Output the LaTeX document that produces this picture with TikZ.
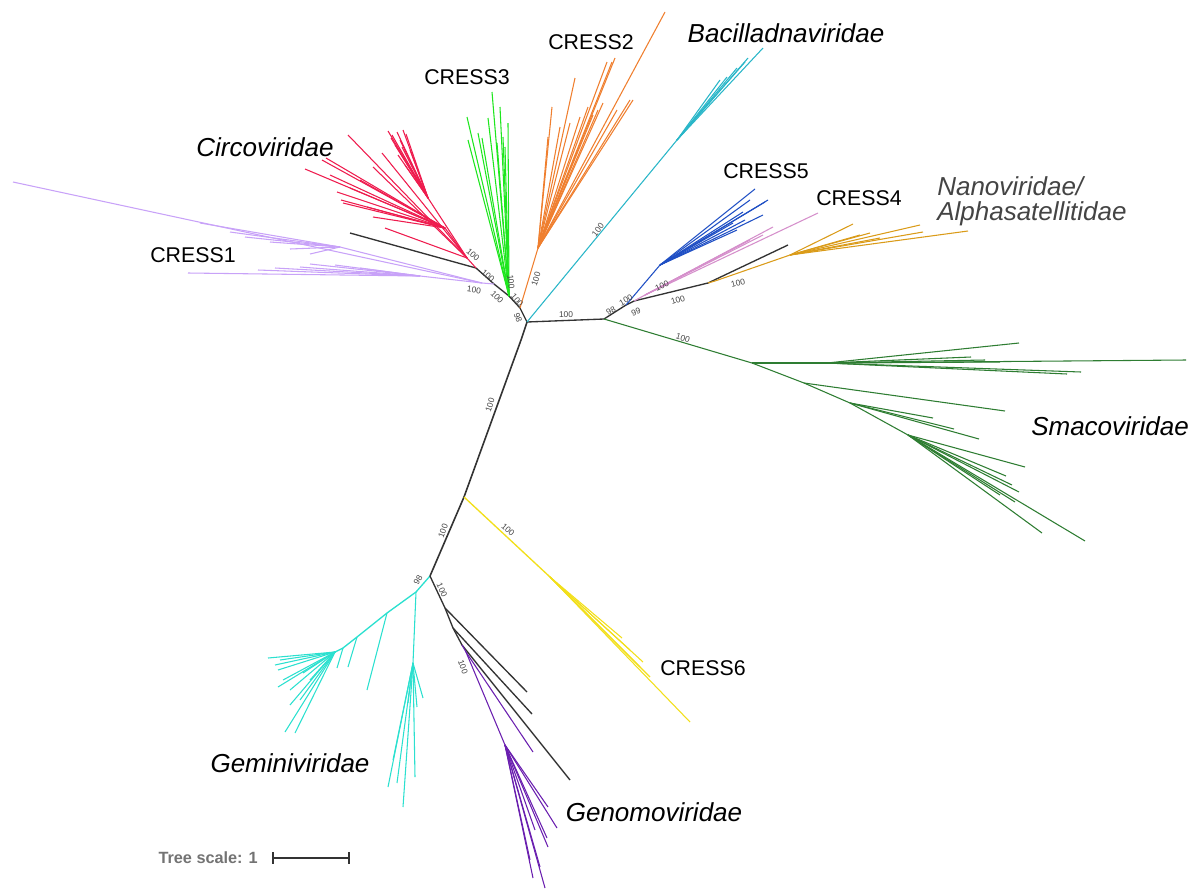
\documentclass[tikz,border=0pt]{standalone}
\usepackage{fontspec}
\setmainfont{Liberation Sans}
\definecolor{cRed}{HTML}{EE1C4E}
\definecolor{cLav}{HTML}{C8A2F8}
\definecolor{cLime}{HTML}{1EE61E}
\definecolor{cOra}{HTML}{EF7F2F}
\definecolor{cTeal}{HTML}{29B6C8}
\definecolor{cBlue}{HTML}{1F4FC4}
\definecolor{cPink}{HTML}{D58FCB}
\definecolor{cGold}{HTML}{DA9B19}
\definecolor{cSmaco}{HTML}{2E7D32}
\definecolor{cYel}{HTML}{F2DF1A}
\definecolor{cTurq}{HTML}{2BE0CF}
\definecolor{cPurp}{HTML}{6A1FAF}
\definecolor{cBk}{HTML}{333333}
\definecolor{cLbl}{HTML}{444444}
\newcommand{\treefan}[4]{\foreach \x/\y [count=\i] in {#4}{\coordinate (#3\i) at (\x,\y); \draw[#1] (#2) -- (#3\i);}}
\begin{document}
\begin{tikzpicture}[x=0.75pt,y=-0.75pt,
  br/.style={line width=0.8pt},
  bk/.style={br,cBk,line width=1pt},
  bs/.style={font=\fontsize{6.3}{7}\selectfont,text=cLbl,inner sep=0pt},
  clade/.style={font=\fontsize{16}{18}\selectfont,inner sep=0pt},
  fam/.style={clade,font=\fontsize{19.5}{22}\selectfont\itshape}]
\useasboundingbox (0,0) rectangle (1195,893);
% internal nodes
\coordinate (R) at (527,322);
\coordinate (T1) at (521,340);
\coordinate (Y) at (464,497);
\coordinate (G) at (430,576);
\coordinate (N1) at (520,308);
\coordinate (N2) at (509,296);
\coordinate (N3) at (494,284);
\coordinate (N4) at (476,268);
\coordinate (Rd) at (467,258);
\coordinate (Ra) at (428,198);
\coordinate (Rb) at (445,228);
\coordinate (P) at (482,283);
\coordinate (Pb) at (340,247);
\coordinate (Pc) at (420,276);
\coordinate (O) at (538,248);
\coordinate (Cy) at (677,140);
\coordinate (N5) at (604,319);
\coordinate (N6) at (626,305);
\coordinate (N7) at (634,301);
\coordinate (N8) at (708,283);
\coordinate (Bl1) at (660,265);
\coordinate (Pk) at (645,295);
\coordinate (Au) at (715,281);
\coordinate (Au1) at (790,255);
\coordinate (S1) at (752,363);
\coordinate (Sa) at (827,363);
\coordinate (Sb) at (804,383);
\coordinate (Sc) at (850,403);
\coordinate (Sd) at (908,435);
\coordinate (Ya) at (550,577);
\coordinate (Cm) at (416,592);
\coordinate (Cl1) at (387,613);
\coordinate (Cl2) at (357,637);
\coordinate (Cl3) at (343,648);
\coordinate (Cf) at (335,652);
\coordinate (Cv) at (413,663);
\coordinate (Gb) at (445,608);
\coordinate (Gc) at (453,628);
\coordinate (Gd) at (462,645);
\coordinate (Pu) at (466,652);
\coordinate (Pn) at (505,745);
% backbone
\draw[bk,line width=1.2pt] (G) -- (Y) -- (T1) -- (R);
\draw[bk] (R) -- (N1) -- (N2) -- (N3) -- (N4);
\draw[bk] (R) -- (N5) -- (N6) -- (N7) -- (N8);
\coordinate (bkl1) at (350,233); \draw[bk] (N4) -- (bkl1);
\coordinate (bkl2) at (788,245); \draw[bk] (N8) -- (bkl2);
% Circoviridae
\draw[br,cRed] (N4) -- (Rd) -- (Rb);
\draw[br,cRed] (Rd) -- (Ra);
\treefan{br,cRed}{Ra}{ra}{388/131,392/135,397/132,403/130,406/134,400/140,395/145,410/150,398/155,405/165,415/175,391/138,402/147}
\treefan{br,cRed}{Rb}{rb}{305/169,322/160,326/158,337/192,341/200,343/203,350/188,367/207,373/217,360/180,330/175}
\treefan{br,cRed}{Rd}{rd}{385/228,348/135,373/167,382/153}
% CRESS1
\draw[br,cLav] (N3) -- (P) -- (Pb);
\draw[br,cLav] (P) -- (Pc);
\coordinate (pl) at (13,182); \draw[br,cLav] (P) -- (pl);
\treefan{br,cLav}{Pb}{pb}{200/223,245/237,270/242,290/249,310/254,230/232}
\treefan{br,cLav}{Pc}{pc}{188/273,258/270,300/267,310/264,335/265,360/268,275/268}
% CRESS3
\treefan{br,cLime}{N2}{gr}{492/92,467/117,468/140,478/133,482/138,488/118,500/107,508/123,503/137,497/143,505/147}
% CRESS2
\draw[br,cOra] (N1) -- (O);
\treefan{br,cOra}{O}{or}{665/12,575/78,552/107,548/137,607/62,615/58,612/62,633/100,630/100,588/107,580/117,603/103,598/110,593/115,570/123,560/127,617/110}
% Bacilladnaviridae
\draw[br,cTeal] (R) -- (Cy);
\treefan{br,cTeal}{Cy}{cy}{763/48,748/58,745/62,727/77,720/80,737/68}
% CRESS5
\draw[br,cBlue] (N6) -- (Bl1);
\treefan{br,cBlue}{Bl1}{bl}{755/189,768/200,765/202,763/215,743/212,737/230,733/223,750/200,745/220}
% CRESS4
\draw[br,cPink] (N7) -- (Pk);
\treefan{br,cPink}{Pk}{pk}{818/213,773/227,763/235,750/240,740/245}
% Nanoviridae
\draw[br,cGold] (N8) -- (Au) -- (Au1);
\treefan{br,cGold}{Au1}{au}{853/224,920/225,923/232,968/231,870/233,860/235,880/238}
% Smacoviridae
\draw[br,cSmaco] (N5) -- (S1) -- (Sb) -- (Sc) -- (Sd);
\draw[br,cSmaco] (S1) -- (Sa);
\treefan{br,cSmaco}{Sa}{sa}{1019/343,971/357,985/360,1186/360,1081/372,1067/374,1000/362}
\coordinate (sb1) at (1005,411); \draw[br,cSmaco] (Sb) -- (sb1);
\treefan{br,cSmaco}{Sc}{sc}{933/418,954/429,979/439}
\treefan{br,cSmaco}{Sd}{sd}{1025/467,1006/476,1012/485,1019/492,1015/502,1042/533,1085/541,1000/495}
% CRESS6
\draw[br,cYel,line width=1pt] (Y) -- (Ya);
\treefan{br,cYel}{Ya}{ye}{622/638,643/662,650/677,640/667,690/722,630/650}
% Geminiviridae
\draw[br,cTurq,line width=1pt] (G) -- (Cm) -- (Cl1) -- (Cl2) -- (Cl3) -- (Cf);
\draw[br,cTurq] (Cm) -- (Cv);
\coordinate (ct1) at (367,690); \draw[br,cTurq] (Cl1) -- (ct1);
\coordinate (ct2) at (348,667); \draw[br,cTurq] (Cl2) -- (ct2);
\coordinate (ct3) at (337,668); \draw[br,cTurq] (Cl3) -- (ct3);
\treefan{br,cTurq}{Cf}{cf}{268/658,280/660,278/687,290/705,285/732,295/733,278/670,283/680,303/673,310/680,300/700,290/690,275/665}
\treefan{br,cTurq}{Cv}{cv}{388/787,397/783,403/807,415/777,423/698,417/707,408/703,393/760}
% Genomoviridae
\draw[bk] (G) -- (Gb) -- (Gc) -- (Gd);
\coordinate (gk1) at (527,692); \draw[bk] (Gb) -- (gk1);
\coordinate (gk2) at (532,714); \draw[bk] (Gc) -- (gk2);
\coordinate (gk3) at (570,780); \draw[bk] (Gd) -- (gk3);
\draw[br,cPurp] (Gd) -- (Pu) -- (Pn);
\coordinate (pu1) at (533,752); \draw[br,cPurp] (Pu) -- (pu1);
\treefan{br,cPurp}{Pn}{pn}{548/807,557/828,547/838,530/860,533/878,545/888,540/867,548/847,535/830}
% support values
\node[bs,rotate=-40] (s1) at (473,255) {100};
\node[bs,rotate=-40] (s2) at (488,276) {100};
\node[bs,rotate=-8] (s3) at (474,290) {100};
\node[bs,rotate=-45] (s4) at (497,297) {100};
\node[bs,rotate=-84] (s5) at (511,282) {100};
\node[bs,rotate=-50] (s6) at (517,300) {100};
\node[bs,rotate=-70] (s7) at (518,318) {98};
\node[bs,rotate=72] (s8) at (536,279) {100};
\node[bs,rotate=52] (s9) at (598,230) {100};
\node[bs] (s10) at (566,315) {100};
\node[bs,rotate=28] (s11) at (611,311) {98};
\node[bs,rotate=30] (s12) at (626,300) {100};
\node[bs,rotate=20] (s13) at (636,312) {99};
\node[bs,rotate=25] (s14) at (662,286) {100};
\node[bs,rotate=18] (s15) at (678,300) {100};
\node[bs,rotate=15] (s16) at (738,283) {100};
\node[bs,rotate=-17] (s17) at (683,338) {100};
\node[bs,rotate=72] (s18) at (490,405) {100};
\node[bs,rotate=70] (s19) at (443,531) {100};
\node[bs,rotate=-40] (s20) at (508,530) {100};
\node[bs,rotate=60] (s21) at (418,580) {98};
\node[bs,rotate=-65] (s22) at (442,590) {100};
\node[bs,rotate=-70] (s23) at (463,667) {100};
% clade labels
\node[clade] (l2) at (591,42) {CRESS2};
\node[clade] (l3) at (467,77) {CRESS3};
\node[fam] (lb) at (786,33) {Bacilladnaviridae};
\node[fam] (lc) at (265,147) {Circoviridae};
\node[clade] (l1) at (193,255) {CRESS1};
\node[clade] (l5) at (766,171) {CRESS5};
\node[clade] (l4) at (859,198) {CRESS4};
\node[fam,text=cLbl,anchor=west] (ln1) at (937,186) {Nanoviridae/};
\node[fam,text=cLbl,anchor=west] (ln2) at (937,214) {Alphasatellitidae};
\node[fam] (ls) at (1110,426) {Smacoviridae};
\node[clade] (l6) at (703,668) {CRESS6};
\node[fam] (lg) at (290,763) {Geminiviridae};
\node[fam] (lgn) at (654,812) {Genomoviridae};
% tree scale
\node[font=\fontsize{12.2}{14}\selectfont\bfseries,text=gray!90!black,anchor=east,inner sep=0pt] (ts) at (258,858) {Tree scale: 1};
\coordinate (sc1) at (273,858);
\coordinate (sc2) at (349,858);
\draw[cBk,line width=0.9pt] (sc1) -- (sc2);
\draw[cBk,line width=0.9pt] (sc1) ++(0,-6) -- ++(0,12);
\draw[cBk,line width=0.9pt] (sc2) ++(0,-6) -- ++(0,12);
\end{tikzpicture}
\end{document}
